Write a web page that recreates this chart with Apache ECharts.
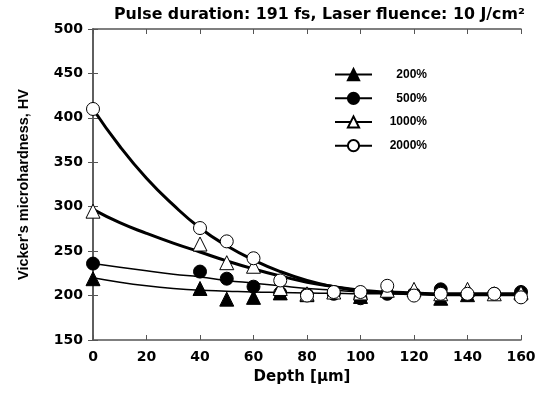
<!DOCTYPE html>
<html lang="en">
  <head>
    <meta charset="utf-8" />
    <script src="https://cdn.jsdelivr.net/npm/echarts@6.0.0/dist/echarts.min.js"></script>
    <style>
      html, body {
        margin: 0;
        padding: 0;
        background: #fff;
      }
      #chart {
        width: 539px;
        height: 412px;
      }
    </style>
  </head>
  <body>
    <div id="chart"></div>
    <script>
      // depth positions of the measured points [um]
      var depth = [0, 40, 50, 60, 70, 80, 90, 100, 110, 120, 130, 140, 150, 160];
      var hv200 = [219, 208, 196, 198, 203, 201, null, 199, null, null, 197, 201, null, 204];
      var hv500 = [236, 227, 219, 210, 203, 201, 202, 197, 202, 202, 207, 201, 202, 204];
      var hv1000 = [295, 258, 237, 233, 208, 202, 204, 203, 206, 207, 202, 207, 202, 203];
      var hv2000 = [410, 276, 261, 242, 217, 200, 204, 204, 211, 200, 202, 202, 202, 198];

      // fitted curves, every 10 um
      var fitDepth = [0, 10, 20, 30, 40, 50, 60, 70, 80, 90, 100, 110, 120, 130, 140, 150, 160];
      var fit200 = [220, 215, 211, 208, 206, 205, 204, 203.5, 203, 202.5, 202, 202, 202, 202, 202, 202, 202];
      var fit500 = [236, 232, 228, 224, 221, 217, 214, 211, 208, 206, 204, 203, 202, 202, 202, 202, 202];
      var fit1000 = [297, 282, 270, 259, 249, 239, 230, 222, 215, 210, 206, 204, 203, 202, 202, 202, 202];
      var fit2000 = [410, 368, 332, 302, 276, 256, 240, 227, 217, 210, 205, 203, 202, 201, 201, 201, 201];

      var names = ['200%', '500%', '1000%', '2000%'];
      var font = 'DejaVu Sans, sans-serif';
      var narrow = 'Liberation Sans, Arial, sans-serif';

      function pairs(xs, ys) {
        var out = [];
        for (var i = 0; i < xs.length; i++) {
          if (ys[i] != null) out.push([xs[i], ys[i]]);
        }
        return out;
      }

      var styles = [
        {symbol: 'triangle', fill: '#000', width: 1.5},
        {symbol: 'circle', fill: '#000', width: 1.5},
        {symbol: 'triangle', fill: '#fff', width: 3},
        {symbol: 'circle', fill: '#fff', width: 3}
      ];
      var fits = [fit200, fit500, fit1000, fit2000];
      var pts = [hv200, hv500, hv1000, hv2000];

      var series = [];
      // curves first so the legend takes line + symbol from them
      for (var k = 0; k < 4; k++) {
        series.push({
          name: names[k],
          type: 'line',
          smooth: true,
          showSymbol: false,
          symbol: styles[k].symbol,
          symbolSize: 13,
          data: pairs(fitDepth, fits[k]),
          lineStyle: {color: '#000', width: styles[k].width},
          itemStyle: {color: styles[k].fill, borderColor: '#000', borderWidth: 1},
          z: 2,
          silent: true
        });
      }
      for (var k = 0; k < 4; k++) {
        series.push({
          name: names[k],
          type: 'scatter',
          symbol: styles[k].symbol,
          symbolSize: styles[k].symbol == 'triangle' ? 14 : 13,
          data: pairs(depth, pts[k]),
          itemStyle: {color: styles[k].fill, borderColor: '#000', borderWidth: 1, opacity: 1},
          z: 3 + k
        });
      }

      var axisLine = {show: true, lineStyle: {color: '#555', width: 1.5}};
      var tick = {show: true, inside: true, length: 5, lineStyle: {color: '#555', width: 1}};
      var lbl = {color: '#000', fontFamily: font, fontWeight: 'bold', fontSize: 14};

      var chart = echarts.init(document.getElementById('chart'));
      chart.setOption({
        animation: false,
        backgroundColor: '#fff',
        title: {
          text: 'Pulse duration: 191 fs, Laser fluence: 10 J/cm²',
          left: 109,
          top: 2,
          textStyle: {color: '#000', fontFamily: font, fontWeight: 'bold', fontSize: 15.8}
        },
        legend: {
          data: names,
          orient: 'vertical',
          left: 329,
          top: 63,
          itemWidth: 37,
          itemHeight: 14,
          itemGap: 10.5,
          selectedMode: false,
          formatter: '{a|{name}}',
          textStyle: {
            color: '#000', fontFamily: narrow, fontWeight: 'bold', fontSize: 12,
            rich: {a: {width: 50, align: 'right', fontFamily: narrow, fontWeight: 'bold', fontSize: 12}}
          }
        },
        grid: {left: 93, right: 18, top: 29, bottom: 72},
        xAxis: [{
          type: 'value',
          min: 0, max: 160, interval: 20,
          name: 'Depth [μm]',
          nameLocation: 'middle',
          nameGap: 30,
          nameTextStyle: {color: '#000', fontFamily: font, fontWeight: 'bold', fontSize: 15, padding: [0, 10, 0, 0]},
          axisLine: axisLine,
          axisTick: tick,
          axisLabel: Object.assign({margin: 10}, lbl),
          splitLine: {show: false}
        }, {
          type: 'value',
          position: 'top',
          min: 0, max: 160, interval: 20,
          axisLine: axisLine,
          axisTick: tick,
          axisLabel: {show: false},
          splitLine: {show: false}
        }],
        yAxis: [{
          type: 'value',
          min: 150, max: 500, interval: 50,
          name: "Vicker's microhardness, HV",
          nameLocation: 'middle',
          nameGap: 62,
          nameTextStyle: {color: '#000', fontFamily: narrow, fontWeight: 'bold', fontSize: 14.5},
          axisLine: axisLine,
          axisTick: tick,
          axisLabel: Object.assign({margin: 10}, lbl),
          splitLine: {show: false}
        }, {
          type: 'value',
          position: 'right',
          min: 150, max: 500, interval: 50,
          axisLine: axisLine,
          axisTick: tick,
          axisLabel: {show: false},
          splitLine: {show: false}
        }],
        series: series
      });
    </script>
  </body>
</html>
